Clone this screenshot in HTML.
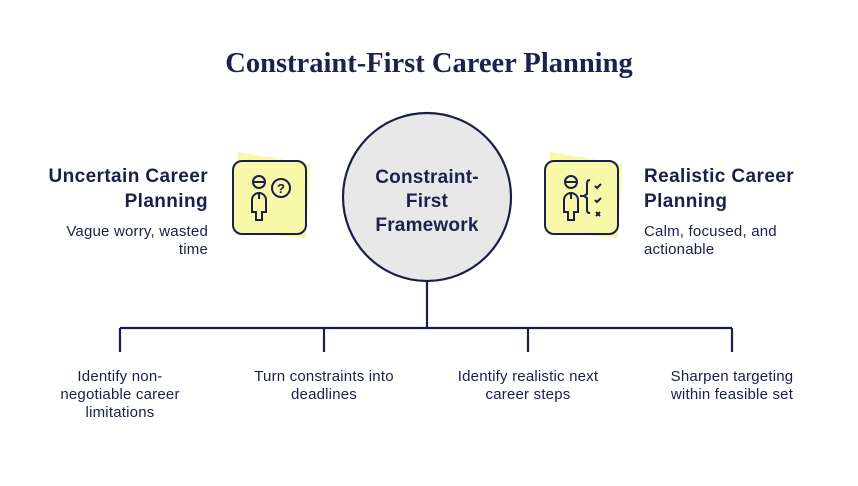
<!DOCTYPE html>
<html><head><meta charset="utf-8"><style>
body{margin:0;width:858px;height:486px;background:#fff;position:relative;overflow:hidden;font-family:"Liberation Sans",sans-serif;color:#1a1f4a}
.t{position:absolute;white-space:nowrap}
.s{font-size:15px;line-height:18px;letter-spacing:0.2px}
.h{font-size:19px;line-height:25px;font-weight:bold;letter-spacing:0.4px}
</style></head><body>
<div class="t" style="left:0;width:858px;text-align:center;top:48px;font-family:'Liberation Serif',serif;font-weight:bold;font-size:28.5px;color:#1c2150">Constraint-First Career Planning</div>
<svg width="858" height="486" style="position:absolute;left:0;top:0">
<g stroke="#1a1f4a" stroke-width="2.2" fill="none">
<path d="M427 282V328M120 328H732M120 328V352M324 328V352M528 328V352M732 328V352"/>
</g>
<g fill="#f7f9a8">
<path d="M238 152l72 12 -4 74 -74 -6z"/>
<path d="M550 152l72 12 -4 74 -74 -6z"/>
</g>
<rect x="233" y="161" width="73" height="73" rx="9" fill="#f7f9a8" stroke="#1a1f4a" stroke-width="2"/>
<rect x="545" y="161" width="73" height="73" rx="9" fill="#f7f9a8" stroke="#1a1f4a" stroke-width="2"/>
<g stroke="#1a1f4a" stroke-width="2" fill="none">
<circle cx="259" cy="182" r="6"/><path d="M253 182h12M259 194v5M252 212v-12a7 7 0 0 1 14 0v12h-4v8h-6v-8z"/>
<circle cx="281" cy="188" r="9"/>
<circle cx="571" cy="182" r="6"/><path d="M565 182h12M571 194v5M564 212v-12a7 7 0 0 1 14 0v12h-4v8h-6v-8z"/>
<path d="M590 180c-3 0-3 2-3 6v8l-3 2 3 2v10c0 4 0 5 3 5M580 196h6M595 186l2 2 4-4M595 200l2 2 4-4M596 212l4 4M600 212l-4 4"/>
</g>
<text x="281" y="193" font-size="13" font-weight="bold" fill="#1a1f4a" text-anchor="middle" font-family="Liberation Sans">?</text>
<circle cx="427" cy="197" r="84" fill="#e8e8e8" stroke="#1a1f4a" stroke-width="2.2"/>
</svg>
<div class="t" style="left:343px;width:168px;text-align:center;top:166px;font-size:19px;line-height:24px;font-weight:bold;color:#1c2150;letter-spacing:0.2px">Constraint-<br>First<br>Framework</div>
<div class="t h" style="right:650px;text-align:right;top:164px">Uncertain Career<br>Planning</div>
<div class="t s" style="right:650px;text-align:right;top:223px">Vague worry, wasted<br>time</div>
<div class="t h" style="left:644px;top:164px">Realistic Career<br>Planning</div>
<div class="t s" style="left:644px;top:223px">Calm, focused, and<br>actionable</div>
<div class="t s" style="left:20px;width:200px;text-align:center;top:368px">Identify non-<br>negotiable career<br>limitations</div>
<div class="t s" style="left:224px;width:200px;text-align:center;top:368px">Turn constraints into<br>deadlines</div>
<div class="t s" style="left:428px;width:200px;text-align:center;top:368px">Identify realistic next<br>career steps</div>
<div class="t s" style="left:632px;width:200px;text-align:center;top:368px">Sharpen targeting<br>within feasible set</div>
</body></html>
